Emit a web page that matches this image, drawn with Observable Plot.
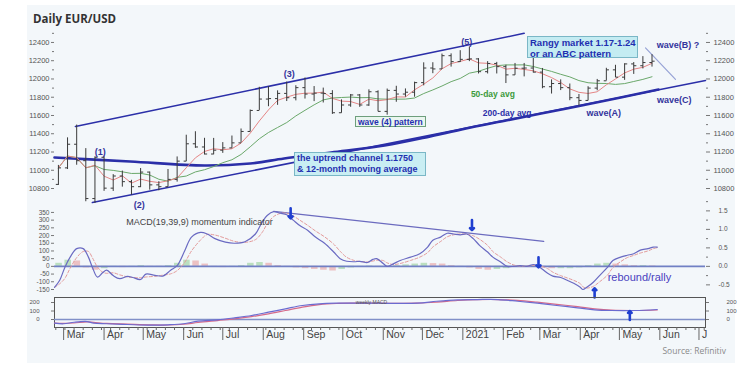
<!DOCTYPE html>
<html><head><meta charset="utf-8">
<script src="https://cdn.jsdelivr.net/npm/d3@7"></script>
<script src="https://cdn.jsdelivr.net/npm/@observablehq/plot@0.6"></script>
<style>
body{margin:0;background:#fff;}
#wrap{position:relative;width:754px;height:369px;overflow:hidden;background:#fff;font-family:"Liberation Sans",Arial,sans-serif;}
#panel{position:absolute;left:27px;top:5px;width:708px;height:358px;background:#f3f7fa;}
#wrap svg{position:absolute;left:0;top:0;}
.title{position:absolute;left:33px;top:11px;font:bold 11.5px "Open Sans",sans-serif;color:#333;}
.src{position:absolute;right:28px;top:345px;font:8.5px "Open Sans",sans-serif;color:#8a8a8a;}
.box{position:absolute;color:#1f2fb0;font-weight:bold;white-space:nowrap;box-sizing:border-box;}
</style></head>
<body>
<div id="wrap">
  <div id="panel"></div>
  <div class="title">Daily EUR/USD</div>
  <div class="src">Source: Refinitiv</div>
</div>
<script>
// ---------- DATA ----------
const weekStart = ["2020-02-24","2020-03-02","2020-03-09","2020-03-16","2020-03-23","2020-03-30","2020-04-06","2020-04-13","2020-04-20","2020-04-27","2020-05-04","2020-05-11","2020-05-18","2020-05-25","2020-06-01","2020-06-08","2020-06-15","2020-06-22","2020-06-29","2020-07-06","2020-07-13","2020-07-20","2020-07-27","2020-08-03","2020-08-10","2020-08-17","2020-08-24","2020-08-31","2020-09-07","2020-09-14","2020-09-21","2020-09-28","2020-10-05","2020-10-12","2020-10-19","2020-10-26","2020-11-02","2020-11-09","2020-11-16","2020-11-23","2020-11-30","2020-12-07","2020-12-14","2020-12-21","2020-12-28","2021-01-04","2021-01-11","2021-01-18","2021-01-25","2021-02-01","2021-02-08","2021-02-15","2021-02-22","2021-03-01","2021-03-08","2021-03-15","2021-03-22","2021-03-29","2021-04-05","2021-04-12","2021-04-19","2021-04-26","2021-05-03","2021-05-10","2021-05-17","2021-05-24"];
const priceOpen  = [10845,11026,11285,11105,10690,11142,10804,10937,10875,10820,10980,10840,10820,10900,11100,11290,11255,11178,11220,11245,11300,11425,11655,11780,11785,11842,11795,11905,11835,11845,11840,11630,11715,11825,11715,11860,11645,11875,11835,11855,11960,12120,12110,12255,12190,12215,12220,12080,12170,12135,12045,12118,12120,12075,11915,11950,11905,11795,11765,11900,11980,12100,12020,12165,12145,12180];
const priceHigh  = [11053,11355,11495,11237,11147,11147,10952,10991,10890,11019,10980,10875,11008,11146,11384,11422,11350,11349,11303,11375,11452,11660,11909,11916,11870,11966,11926,12011,11917,11900,11872,11771,11830,11830,11881,11870,11890,11920,11891,11965,12177,12178,12273,12275,12310,12349,12223,12190,12182,12150,12170,12170,12243,12115,11990,11990,11945,11830,11915,11995,12117,12150,12167,12180,12245,12266];
const priceLow   = [10834,11008,11055,10655,10636,10769,10768,10815,10727,10810,10782,10775,10815,10870,11095,11240,11168,11170,11185,11240,11300,11420,11655,11696,11711,11753,11760,11780,11752,11737,11612,11625,11690,11689,11700,11640,11603,11745,11800,11800,11925,12058,12105,12130,12180,12190,12055,12055,12055,11950,12040,12023,12065,11893,11835,11873,11762,11704,11760,11870,11978,12015,11985,12050,12110,12130];
const priceClose = [11026,11285,11105,10690,11142,10804,10937,10875,10820,10980,10840,10820,10900,11100,11290,11255,11178,11220,11245,11300,11425,11655,11780,11785,11842,11795,11905,11835,11845,11840,11630,11715,11825,11715,11860,11645,11875,11835,11855,11960,12120,12110,12255,12190,12215,12220,12080,12170,12135,12045,12118,12120,12075,11915,11950,11905,11795,11765,11900,11980,12100,12020,12165,12145,12180,12195];

// 12-month moving average
const maLongDates  = ["2020-02-23","2020-04-21","2020-06-17","2020-07-22","2020-08-17","2020-09-22","2020-11-02","2020-12-07","2021-01-07","2021-02-03","2021-03-02","2021-04-02","2021-05-02","2021-05-31"];
const maLongValues = [11140,11096,11052,11074,11129,11194,11271,11370,11468,11545,11622,11710,11797,11885];

// channel lines
const upperChannelDates = ["2020-03-10","2021-02-17"], upperChannelValues = [11480,12500];
const lowerChannelDates = ["2020-03-23","2021-07-06"], lowerChannelValues = [10646,11984];
const waveBLineDates = ["2021-05-21","2021-06-13"], waveBLineValues = [12340,11995];

// daily MACD(19,39,9)
const macdDates = ["2020-02-23","2020-02-27","2020-03-02","2020-03-06","2020-03-11","2020-03-16","2020-03-20","2020-03-23","2020-03-27","2020-03-31","2020-04-03","2020-04-08","2020-04-13","2020-04-19","2020-04-23","2020-04-29","2020-05-03","2020-05-10","2020-05-16","2020-05-22","2020-05-27","2020-06-02","2020-06-07","2020-06-14","2020-06-19","2020-06-25","2020-07-03","2020-07-10","2020-07-18","2020-07-26","2020-07-31","2020-08-04","2020-08-09","2020-08-14","2020-08-19","2020-08-24","2020-08-29","2020-09-04","2020-09-10","2020-09-17","2020-09-24","2020-09-29","2020-10-04","2020-10-10","2020-10-14","2020-10-20","2020-10-24","2020-10-27","2020-11-01","2020-11-04","2020-11-09","2020-11-14","2020-11-22","2020-11-29","2020-12-05","2020-12-09","2020-12-15","2020-12-20","2020-12-25","2020-12-30","2021-01-04","2021-01-09","2021-01-14","2021-01-20","2021-01-24","2021-01-30","2021-02-04","2021-02-09","2021-02-14","2021-02-19","2021-02-24","2021-02-27","2021-03-01","2021-03-07","2021-03-11","2021-03-17","2021-03-22","2021-03-27","2021-04-01","2021-04-03","2021-04-06","2021-04-11","2021-04-16","2021-04-22","2021-04-26","2021-05-02","2021-05-07","2021-05-12","2021-05-17","2021-05-23","2021-05-27","2021-05-30"];
const macdValues = [-136,-90,-5,60,115,115,60,-5,-70,-40,-25,-60,-80,-65,-72,-85,-50,-58,-63,-25,5,105,190,220,210,180,157,150,160,210,285,330,355,345,335,300,265,235,190,150,93,50,33,30,33,25,45,50,18,0,18,38,60,82,125,170,190,215,210,205,210,180,135,93,60,28,0,0,5,0,12,5,-5,-45,-63,-72,-90,-110,-136,-150,-136,-103,-58,-5,38,60,72,82,105,115,125,125];
// MACD histogram by week
const histValues = [20,40,35,-10,-25,-15,-5,-8,-5,5,-3,-5,5,20,40,35,15,-5,-8,-5,5,20,25,20,5,-5,-10,-15,-20,-25,-30,-20,-10,-5,3,-3,-5,5,10,15,20,18,15,5,-5,-10,-20,-25,-20,-15,-5,3,5,-10,-15,-15,-15,-10,5,15,20,15,10,5,5,3];
const macdTrendDates = ["2020-08-09","2021-03-04"], macdTrendValues = [357,162];

// weekly MACD
const wMacdDates = ["2020-02-23","2020-03-01","2020-03-09","2020-03-19","2020-03-24","2020-04-03","2020-04-19","2020-05-07","2020-05-20","2020-06-01","2020-06-12","2020-06-27","2020-07-10","2020-07-23","2020-08-05","2020-08-18","2020-08-31","2020-09-13","2020-09-26","2020-10-09","2020-10-27","2020-11-27","2020-12-12","2020-12-28","2021-01-12","2021-01-28","2021-02-12","2021-02-27","2021-03-14","2021-03-30","2021-04-12","2021-04-25","2021-05-13","2021-05-30"];
const wMacdValues = [-43,-50,-32,-24,-43,-50,-59,-67,-62,-50,-20,-4,20,47,86,126,165,185,192,192,192,192,215,232,235,235,215,192,165,138,114,106,106,118];

// axis ticks & labels
const priceTicks = [10800,11000,11200,11400,11600,11800,12000,12200,12400];
const macdTicks = [-150,-100,-50,0,50,100,150,200,250,300,350];
const macdRightLabels = [-0.5,0,0.5,1.0,1.5];
const weeklyTicks = [0,100,200];
const monthStarts = ["2020-03-01","2020-04-01","2020-05-01","2020-06-01","2020-07-01","2020-08-01","2020-09-01","2020-10-01","2020-11-01","2020-12-01","2021-01-01","2021-02-01","2021-03-01","2021-04-01","2021-05-01","2021-06-01","2021-07-01"];
const monthLabels = ["Mar","Apr","May","Jun","Jul","Aug","Sep","Oct","Nov","Dec","2021","Feb","Mar","Apr","May","Jun","J"];

// annotations
const waveLabels = [
  {date:"2020-03-29", value:11194, text:"(1)"},
  {date:"2020-04-28", value:10613, text:"(2)"},
  {date:"2020-08-21", value:12049, text:"(3)"},
  {date:"2021-01-04", value:12400, text:"(5)"},
  {date:"2021-06-15", value:12367, text:"wave(B) ?"},
  {date:"2021-06-12", value:11764, text:"wave(C)"},
  {date:"2021-04-19", value:11622, text:"wave(A)"}
];
const avgLabels = [
  {date:"2021-01-24", value:11830, text:"50-day avg", color:"#3c9a3c"},
  {date:"2021-02-04", value:11622, text:"200-day avg", color:"#2b2fa8"}
];
const macdDownArrows = [{date:"2020-08-22", value:344},{date:"2021-01-08", value:268},{date:"2021-02-28", value:26}];
const macdUpArrows = [{date:"2021-04-12", value:-172}];
const weeklyUpArrows = [{date:"2021-05-09", value:47}];

// ---------- BUILD ----------
const P = d => new Date(d);
const xDomain = [P("2020-02-23"), P("2021-07-06")];
const priceRows = weekStart.map((w,i) => ({mid: d3.utcDay.offset(P(w), 2), start: P(w), open: priceOpen[i], high: priceHigh[i], low: priceLow[i], close: priceClose[i], hist: histValues[i], up: i === 0 ? true : histValues[i] >= histValues[i-1]}));
const pts = (ds, vs) => ds.map((d,i) => ({date: P(d), value: vs[i]}));
const maLong = pts(maLongDates, maLongValues);
const upperCh = pts(upperChannelDates, upperChannelValues);
const lowerCh = pts(lowerChannelDates, lowerChannelValues);
const waveBLine = pts(waveBLineDates, waveBLineValues);
const macd = pts(macdDates, macdValues);
const macdTrend = pts(macdTrendDates, macdTrendValues);
const wMacd = pts(wMacdDates, wMacdValues);
const conv = a => a.map(d => ({...d, date: P(d.date)}));
const months = monthStarts.map(P);
const mondays = d3.utcMonday.range(xDomain[0], xDomain[1]);

const FONT = "Liberation Sans, Arial, sans-serif";
const common = {width:754, height:369, marginLeft:54, marginRight:49,
  style:{background:"transparent", color:"#555", fontFamily:FONT, fontSize:"7.5px", overflow:"visible"}};
const blue = "#2b2fa8", waveCol = "#34349c";
const plain = d => String(d);

// Price panel
const price = Plot.plot({...common, marginTop:29, marginBottom:162,
  x:{type:"utc", domain:xDomain, axis:null},
  y:{domain:[10592,12542], label:null},
  marks:[
    Plot.axisY(priceTicks, {anchor:"left", label:null, tickSize:3, tickPadding:2, line:true, stroke:"#777", tickFormat:plain}),
    Plot.axisY(priceTicks.map(t => t+100), {anchor:"left", label:null, tickSize:2, tickFormat:()=>"", stroke:"#777"}),
    Plot.axisY(priceTicks, {anchor:"right", label:null, tickSize:4, tickPadding:4, line:true, stroke:"#777", tickFormat:plain}),
    Plot.axisY(priceTicks.map(t => t+100), {anchor:"right", label:null, tickSize:2, tickFormat:()=>"", stroke:"#777"}),
    Plot.line(maLong, {x:"date", y:"value", stroke:blue, strokeWidth:2.6, curve:"catmull-rom"}),
    Plot.line(lowerCh, {x:"date", y:"value", stroke:blue, strokeWidth:1.5}),
    Plot.line(upperCh, {x:"date", y:"value", stroke:blue, strokeWidth:1.5}),
    Plot.line(waveBLine, {x:"date", y:"value", stroke:"#97a3d6", strokeWidth:1.2}),
    Plot.lineY(priceRows, Plot.windowY({k:10, anchor:"end"}, {x:"mid", y:"close", stroke:"#6aa86a", strokeWidth:1})),
    Plot.lineY(priceRows, Plot.windowY({k:4, anchor:"end"}, {x:"mid", y:"close", stroke:"#e58585", strokeWidth:1})),
    Plot.ruleX(priceRows, {x:"mid", y1:"low", y2:"high", stroke:"#3a3a3a", strokeWidth:1}),
    Plot.link(priceRows, {x1:d => d3.utcDay.offset(d.mid,-2), x2:"mid", y1:"open", y2:"open", stroke:"#3a3a3a"}),
    Plot.link(priceRows, {x1:"mid", x2:d => d3.utcDay.offset(d.mid,2), y1:"close", y2:"close", stroke:"#3a3a3a"}),
    Plot.text(conv(waveLabels), {x:"date", y:"value", text:"text", fill:waveCol, fontWeight:"bold", fontSize:9}),
    Plot.text(conv(avgLabels), {x:"date", y:"value", text:"text", fill:"color", fontWeight:"bold", fontSize:8.5})
  ]});

// Daily MACD panel
const macdPlot = Plot.plot({...common, marginTop:207, marginBottom:72,
  x:{type:"utc", domain:xDomain, axis:null},
  y:{domain:[-202,382], label:null},
  marks:[
    Plot.axisY(macdTicks, {anchor:"left", label:null, tickSize:3, tickPadding:2, line:true, stroke:"#777", fontSize:6.5, tickFormat:plain}),
    Plot.axisY(macdRightLabels.map(v => v*240), {anchor:"right", label:null, tickSize:4, tickPadding:9, line:true, stroke:"#777", fontSize:6.5, tickFormat:d => (d/240).toFixed(1)}),
    Plot.axisY(macdRightLabels.map(v => v*240 + 60), {anchor:"right", label:null, tickSize:2, tickFormat:()=>"", stroke:"#777"}),
    Plot.rectY(priceRows, {x1:"start", x2:d => d3.utcDay.offset(d.start,5), y:"hist", fill:d => d.up ? "#66bb66" : "#e27070", fillOpacity:0.4}),
    Plot.ruleY([0], {stroke:"#7180c4", strokeWidth:1.6}),
    Plot.line(macdTrend, {x:"date", y:"value", stroke:"#6b6bbf", strokeWidth:1.2}),
    Plot.lineY(macd, Plot.windowY({k:3, anchor:"end"}, {x:"date", y:"value", stroke:"#e39a9a", strokeWidth:1, strokeDasharray:"3,2", curve:"catmull-rom"})),
    Plot.line(macd, {x:"date", y:"value", stroke:"#6a6ac2", strokeWidth:1.2, curve:"catmull-rom"}),
    Plot.text([{date:P("2020-04-18"), value:286}], {x:"date", y:"value", text:()=>"MACD(19,39,9) momentum indicator", textAnchor:"start", fill:"#444", fontSize:9}),
    Plot.text([{date:P("2021-04-22"), value:-71}], {x:"date", y:"value", text:()=>"rebound/rally", textAnchor:"start", fill:"#4a3fc0", fontSize:11}),
    Plot.vector(conv(macdDownArrows), {x:"date", y:"value", length:10, rotate:180, anchor:"middle", stroke:"#1f3fd0", strokeWidth:2.6}),
    Plot.vector(conv(macdUpArrows), {x:"date", y:"value", length:9, rotate:0, anchor:"middle", stroke:"#1f3fd0", strokeWidth:2.6})
  ]});

// Weekly MACD panel
const weekly = Plot.plot({...common, marginTop:297, marginBottom:42,
  x:{type:"utc", domain:xDomain, label:null},
  y:{domain:[-94,259], label:null},
  marks:[
    Plot.frame({stroke:"#555"}),
    Plot.axisY(weeklyTicks, {anchor:"left", label:null, tickSize:3, tickPadding:12, stroke:"#777", fontSize:6, tickFormat:plain}),
    Plot.axisY(weeklyTicks, {anchor:"right", label:null, tickSize:3, tickPadding:18, stroke:"#777", fontSize:6, tickFormat:plain}),
    Plot.axisX(mondays, {anchor:"bottom", label:null, tickSize:3, tickFormat:()=>"", stroke:"#666"}),
    Plot.axisX(months, {anchor:"bottom", label:null, tickSize:13, tickFormat:()=>"", stroke:"#666"}),
    Plot.text(months, {x:d => d, text:(d,i) => monthLabels[i], frameAnchor:"bottom", dy:10, dx:3, textAnchor:"start", fill:"#444", fontSize:10.5}),
    Plot.ruleY([0], {stroke:"#8090c8", strokeWidth:1.4}),
    Plot.lineY(wMacd, Plot.windowY({k:2, anchor:"end"}, {x:"date", y:"value", stroke:"#d66a8a", strokeWidth:1.2, curve:"catmull-rom"})),
    Plot.line(wMacd, {x:"date", y:"value", stroke:"#6b6bd0", strokeWidth:1.2, curve:"catmull-rom"}),
    Plot.text([{date:P("2020-10-23"), value:200}], {x:"date", y:"value", text:()=>"weekly MACD", fill:"#555", fontSize:5}),
    Plot.vector(conv(weeklyUpArrows), {x:"date", y:"value", length:9, rotate:0, anchor:"middle", stroke:"#1f3fd0", strokeWidth:2.6})
  ]});

const wrap = document.getElementById("wrap");
wrap.appendChild(price);
wrap.appendChild(macdPlot);
wrap.appendChild(weekly);

// boxed annotations
function box(left, top, w, h, bg, border, fs, html){
  const d = document.createElement("div");
  d.className = "box";
  Object.assign(d.style, {left:left+"px", top:top+"px", width:w+"px", height:h+"px", background:bg, border:"1px solid "+border, fontSize:fs+"px", lineHeight:(fs+1.5)+"px", padding:"0 2px"});
  d.innerHTML = html;
  wrap.appendChild(d);
}
box(355, 116, 71, 11, "#eaf6ef", "#6d9f7c", 8.5, "wave (4) pattern");
box(294, 152, 132, 24, "#c9eef3", "#7ab7c6", 9, "the uptrend channel 1.1750<br>&amp; 12-month moving average");
box(527, 36, 111, 22, "#c4ecf2", "#7ab7c6", 9.5, "Rangy market 1.17-1.24<br>or an ABC pattern");
</script>
</body></html>
